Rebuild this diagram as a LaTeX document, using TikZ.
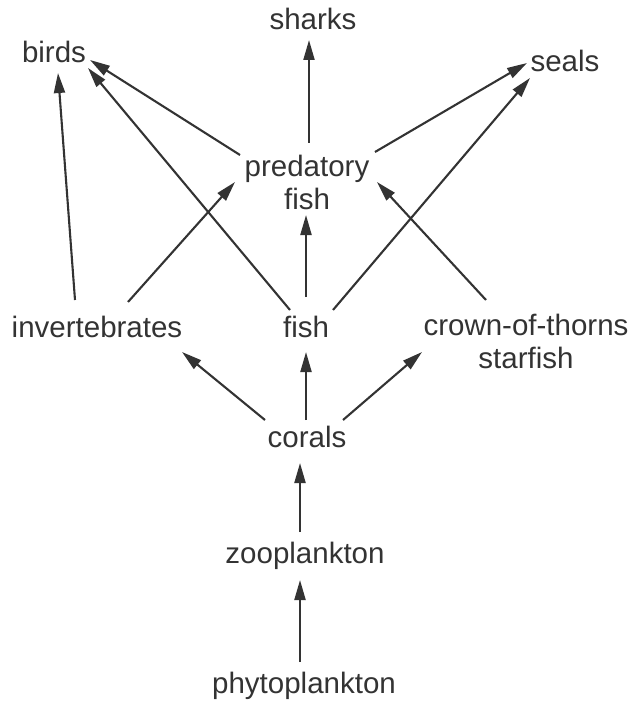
\documentclass[tikz,border=0pt]{standalone}
\usepackage{fontspec}
\setmainfont{Liberation Sans}
\usetikzlibrary{arrows.meta}
\definecolor{ink}{HTML}{333333}
\begin{document}
\begin{tikzpicture}[x=1pt,y=-1pt,
  lbl/.style={font=\fontsize{29.5}{33}\selectfont, text=ink, inner sep=0pt},
  arr/.style={draw=ink, line width=2.1pt, -{Triangle[length=20pt,width=11pt]}}]
\useasboundingbox (0,0) rectangle (632,703);
\node[lbl, anchor=base] (sharks) at (313,30) {sharks};
\node[lbl, anchor=base] (birds) at (54,63) {birds};
\node[lbl, anchor=base] (seals) at (565,72) {seals};
\node[lbl, align=center] (pred) at (307,182) {predatory\\fish};
\node[lbl, anchor=base] (inv) at (97,337) {invertebrates};
\node[lbl, anchor=base] (fish) at (306,337) {fish};
\node[lbl, align=center] (crown) at (526,341) {crown-of-thorns\\starfish};
\node[lbl, anchor=base] (corals) at (307,447) {corals};
\node[lbl, anchor=base] (zoo) at (305,563) {zooplankton};
\node[lbl, anchor=base] (phyto) at (304,693) {phytoplankton};
\draw[arr] ([shift={(-22,-37)}]inv.base) -- ([shift={(4,10)}]birds.base);
\draw[arr] ([shift={(31,-35)}]inv.base) -- ([shift={(-72,0)}]pred.center);
\draw[arr] ([shift={(-16,-27)}]fish.base) -- ([shift={(34,5)}]birds.base);
\draw[arr] ([shift={(-67,-27)}]pred.center) -- ([shift={(36,-3)}]birds.base);
\draw[arr] ([shift={(2,-39)}]pred.center) -- ([shift={(-4,10)}]sharks.base);
\draw[arr] ([shift={(68,-30)}]pred.center) -- ([shift={(-38,-9)}]seals.base);
\draw[arr] ([shift={(27,-27)}]fish.base) -- ([shift={(-35,6)}]seals.base);
\draw[arr] ([shift={(-40,-41)}]crown.center) -- ([shift={(70,0)}]pred.center);
\draw[arr] ([shift={(0,-40)}]fish.base) -- ([shift={(-1,33)}]pred.center);
\draw[arr] ([shift={(-42,-27)}]corals.base) -- ([shift={(85,15)}]inv.base);
\draw[arr] ([shift={(-1,-27)}]corals.base) -- ([shift={(0,15)}]fish.base);
\draw[arr] ([shift={(36,-27)}]corals.base) -- ([shift={(-104,11)}]crown.center);
\draw[arr] ([shift={(-5,-31)}]zoo.base) -- ([shift={(-7,16)}]corals.base);
\draw[arr] ([shift={(-4,-31)}]phyto.base) -- ([shift={(-5,17)}]zoo.base);
\end{tikzpicture}
\end{document}
